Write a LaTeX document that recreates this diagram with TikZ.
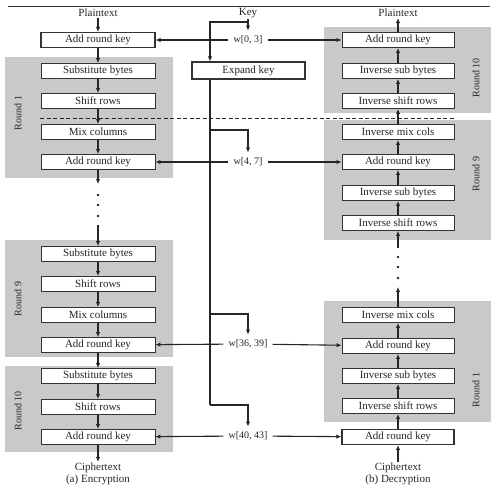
\documentclass[tikz,border=0pt]{standalone}
\usepackage{fontspec}
\setmainfont{Liberation Serif}
\usetikzlibrary{arrows.meta}
\begin{document}
\begin{tikzpicture}[x=1pt,y=-1pt,
  every node/.style={font=\fontsize{11}{12}\selectfont, text=black!85},
  lbox/.style={draw=black!80, line width=0.9pt, fill=white, minimum width=114pt, minimum height=15pt, inner sep=0pt},
  rbox/.style={lbox, minimum width=112pt},
  obox/.style={lbox, line width=1.2pt},
  grp/.style={fill=gray!42, draw=none},
  lbl/.style={inner sep=1pt},
  wl/.style={inner sep=5pt, font=\fontsize{10}{11}\selectfont},
  rlab/.style={rotate=90, font=\fontsize{10}{11}\selectfont},
  arr/.style={draw=black!85, line width=1.1pt, -{Latex[length=5pt,width=4.5pt]}},
  ln/.style={draw=black!85, line width=1.1pt},
  dot/.style={circle, fill=black!85, inner sep=0pt, minimum size=2.8pt}
]
\useasboundingbox (0,0) rectangle (496,490);
\draw[line width=1pt, black!80] (8,6) -- (490,6);
% gray round panels
\fill[grp] (5,57) rectangle (173,178);
\fill[grp] (5,240) rectangle (173,357);
\fill[grp] (5,366) rectangle (173,452);
\fill[grp] (324,27) rectangle (491,113);
\fill[grp] (324,120) rectangle (491,240);
\fill[grp] (324,301) rectangle (491,422);
\node[rlab] (rl1) at (18,113) {Round 1};
\node[rlab] (rl9) at (18,299) {Round 9};
\node[rlab] (rl10) at (18,411) {Round 10};
\node[rlab] (rr10) at (476,78) {Round 10};
\node[rlab] (rr9) at (476,174) {Round 9};
\node[rlab] (rr1) at (476,390) {Round 1};
% dashed line
\draw[dashed, dash pattern=on 4pt off 2.5pt, line width=1pt, black!85] (40,118) -- (454,118);
% encryption column
\node[lbl] (LP) at (98,13) {Plaintext};
\node[obox] (L0) at (98,40) {Add round key};
\node[lbox] (L1a) at (98,71) {Substitute bytes};
\node[lbox] (L1b) at (98,101) {Shift rows};
\node[lbox] (L1c) at (98,132) {Mix columns};
\node[lbox] (L1d) at (98,162) {Add round key};
\coordinate (Le1) at (98,184);
\node[dot] (Ld1) at (98,195) {};
\node[dot] (Ld2) at (98,205) {};
\node[dot] (Ld3) at (98,216) {};
\coordinate (Ls9) at (98,225);
\node[lbox] (L9a) at (98,254) {Substitute bytes};
\node[lbox] (L9b) at (98,284) {Shift rows};
\node[lbox] (L9c) at (98,315) {Mix columns};
\node[lbox] (L9d) at (98,345) {Add round key};
\node[lbox] (L10a) at (98,376) {Substitute bytes};
\node[lbox] (L10b) at (98,407) {Shift rows};
\node[lbox] (L10c) at (98,437) {Add round key};
\node[lbl] (LC) at (98,468) {Ciphertext};
\node[lbl] (LE) at (98,480) {(a) Encryption};
\draw[arr] (LP) -- (L0);
\draw[arr] (L0) -- (L1a);
\draw[arr] (L1a) -- (L1b);
\draw[arr] (L1b) -- (L1c);
\draw[arr] (L1c) -- (L1d);
\draw[arr] (L1d) -- (Le1);
\draw[arr] (Ls9) -- (L9a);
\draw[arr] (L9a) -- (L9b);
\draw[arr] (L9b) -- (L9c);
\draw[arr] (L9c) -- (L9d);
\draw[arr] (L9d) -- (L10a);
\draw[arr] (L10a) -- (L10b);
\draw[arr] (L10b) -- (L10c);
\draw[arr] (L10c) -- (LC);
% decryption column
\node[lbl] (RP) at (398,13) {Plaintext};
\node[rbox] (R10a) at (398,40) {Add round key};
\node[rbox] (R10b) at (398,71) {Inverse sub bytes};
\node[rbox] (R10c) at (398,101) {Inverse shift rows};
\node[rbox] (R9a) at (398,132) {Inverse mix cols};
\node[rbox] (R9b) at (398,162) {Add round key};
\node[rbox] (R9c) at (398,193) {Inverse sub bytes};
\node[rbox] (R9d) at (398,223) {Inverse shift rows};
\coordinate (Rs9) at (398,248);
\node[dot] (Rd1) at (398,257) {};
\node[dot] (Rd2) at (398,267) {};
\node[dot] (Rd3) at (398,278) {};
\coordinate (Re1) at (398,287);
\node[rbox] (R1a) at (398,315) {Inverse mix cols};
\node[rbox] (R1b) at (398,346) {Add round key};
\node[rbox] (R1c) at (398,376) {Inverse sub bytes};
\node[rbox] (R1d) at (398,406) {Inverse shift rows};
\node[obox, minimum width=112pt] (R0) at (398,437) {Add round key};
\node[lbl] (RC) at (398,468) {Ciphertext};
\node[lbl] (RE) at (398,480) {(b) Decryption};
\draw[arr] (RC) -- (R0);
\draw[arr] (R0) -- (R1d);
\draw[arr] (R1d) -- (R1c);
\draw[arr] (R1c) -- (R1b);
\draw[arr] (R1b) -- (R1a);
\draw[arr] (R1a) -- (Re1);
\draw[arr] (Rs9) -- (R9d);
\draw[arr] (R9d) -- (R9c);
\draw[arr] (R9c) -- (R9b);
\draw[arr] (R9b) -- (R9a);
\draw[arr] (R9a) -- (R10c);
\draw[arr] (R10c) -- (R10b);
\draw[arr] (R10b) -- (R10a);
\draw[arr] (R10a) -- (RP);
% key schedule
\node[lbl] (K) at (248,13) {Key};
\node[obox, minimum width=113pt, minimum height=17pt] (EK) at (248.5,70.5) {Expand key};
\node[wl] (w0) at (248,40) {w[0, 3]};
\node[wl] (w1) at (248,162) {w[4, 7]};
\node[wl] (w9) at (248,344) {w[36, 39]};
\node[wl] (w10) at (248,436) {w[40, 43]};
\coordinate (k1) at (248,22);
\coordinate (k2) at (210,22);
\coordinate (ekb) at (210,79);
\coordinate (b1) at (210,130);
\coordinate (b9) at (210,314);
\coordinate (b10) at (210,405);
\draw[arr] (K) -- (w0.north);
\draw[arr] (k1) -- (k2) -- (EK.north -| k2);
\draw[ln] (EK.south -| ekb) -- (b10);
\draw[arr] (b1) -- (b1 -| w1) -- (w1.north);
\draw[arr] (b9) -- (b9 -| w9) -- (w9.north);
\draw[arr] (b10) -- (b10 -| w10) -- (w10.north);
\draw[arr] (w0) -- (L0);
\draw[arr] (w0) -- (R10a);
\draw[arr] (w1) -- (L1d);
\draw[arr] (w1) -- (R9b);
\draw[arr] (w9) -- (L9d);
\draw[arr] (w9) -- (R1b);
\draw[arr] (w10) -- (L10c);
\draw[arr] (w10) -- (R0);
\end{tikzpicture}
\end{document}
